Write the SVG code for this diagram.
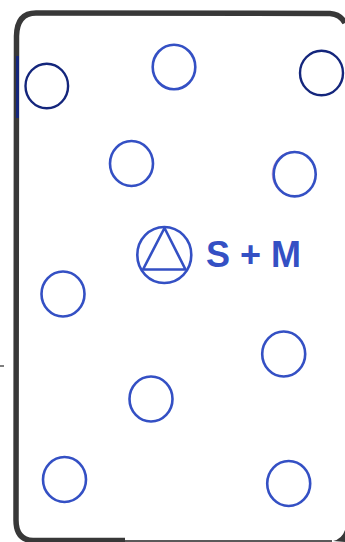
<svg xmlns="http://www.w3.org/2000/svg" width="345" height="542" viewBox="0 0 345 542">
<style>
.frame{fill:none;stroke:#383838;stroke-width:5.5}
.c{fill:none;stroke:#3450c4;stroke-width:2.6}
.n{fill:none;stroke:#14267c;stroke-width:2.4}
text{font-family:"Liberation Sans",Arial,sans-serif;font-weight:700;font-size:36px;fill:#3450c4}
</style>
<rect width="345" height="542" fill="#fff"/>
<g id="connectors">
<path class="frame" d="M345 23Q340 14 330 13.500L36 13Q17 13 16.500 36L16 520Q16 540 33 540.500L125 540.500"/>
<path d="M125 541L332 541" stroke="#5a5a5a" stroke-width="2" fill="none"/>
<path d="M333 541Q342 539 345 530L345 542Z" fill="#383838"/>
<path d="M17.500 56V118" stroke="#14267c" stroke-width="3" fill="none"/>
<path d="M0 366H4" stroke="#555" stroke-width="1.500" fill="none"/>
</g>
<g id="n1"><ellipse class="n" cx="46.800" cy="86" rx="21.300" ry="22.300"/></g>
<g id="n2"><ellipse class="c" cx="174" cy="67" rx="21.300" ry="22.300"/></g>
<g id="n3"><ellipse class="n" cx="321.500" cy="73" rx="21.500" ry="22.300"/></g>
<g id="n4"><ellipse class="c" cx="131.500" cy="163.500" rx="21.500" ry="22.500"/></g>
<g id="n5"><ellipse cx="294" cy="174" rx="21.800" ry="22.600" fill="none" stroke="#d9a0d0" stroke-width="1"/><ellipse class="c" cx="294.700" cy="174.200" rx="21" ry="22.200"/></g>
<g id="emblem"><ellipse class="c" cx="164.300" cy="255" rx="27" ry="28"/><path class="c" d="M164.500 228L143 269.500H185.500Z" stroke-linejoin="round"/></g>
<g id="label"><text x="206" y="267">S + M</text></g>
<g id="n6"><ellipse class="c" cx="63" cy="294" rx="21.500" ry="22.500"/></g>
<g id="n7"><ellipse class="c" cx="283.700" cy="354" rx="21.500" ry="22.500"/></g>
<g id="n8"><ellipse class="c" cx="151" cy="399" rx="21.500" ry="22.500"/></g>
<g id="n9"><ellipse class="c" cx="64.500" cy="479.500" rx="21.500" ry="22.500"/></g>
<g id="n10"><ellipse class="c" cx="288.700" cy="483.500" rx="21.500" ry="22.500"/></g>
</svg>
